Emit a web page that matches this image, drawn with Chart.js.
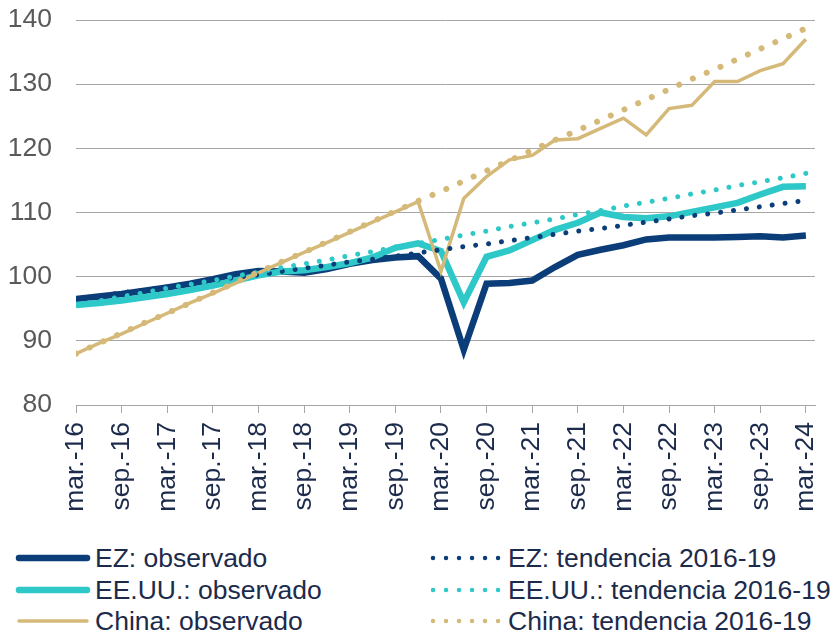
<!DOCTYPE html>
<html>
<head>
<meta charset="utf-8">
<script src="https://cdn.jsdelivr.net/npm/chart.js@4"></script>
<style>
    body { margin: 0; background: #fff; }
    .wrap { position: relative; width: 834px; height: 635px; font-family: "Liberation Sans", Arial, sans-serif; }
    #myChart { position: absolute; left: 0; top: 0; }
    .leg { position: absolute; height: 30px; line-height: 30px; font-size: 26.5px; color: #1c2a4b; white-space: nowrap; }
    .leg svg { position: absolute; top: 9px; }
    .leg span { position: absolute; }
</style>
</head>
<body>
<div class="wrap">
    <canvas id="myChart" width="834" height="530"></canvas>
    <div class="legend_place"></div>
</div>
<script>
// quarters, mar.-16 .. mar.-24
const quarters = [
    'mar.-16', 'jun.-16', 'sep.-16', 'dic.-16',
    'mar.-17', 'jun.-17', 'sep.-17', 'dic.-17',
    'mar.-18', 'jun.-18', 'sep.-18', 'dic.-18',
    'mar.-19', 'jun.-19', 'sep.-19', 'dic.-19',
    'mar.-20', 'jun.-20', 'sep.-20', 'dic.-20',
    'mar.-21', 'jun.-21', 'sep.-21', 'dic.-21',
    'mar.-22', 'jun.-22', 'sep.-22', 'dic.-22',
    'mar.-23', 'jun.-23', 'sep.-23', 'dic.-23',
    'mar.-24'
];
// which quarters get a tick + label (mar / sep)
const tickQuarters = [0, 2, 4, 6, 8, 10, 12, 14, 16, 18, 20, 22, 24, 26, 28, 30, 32];
const yTicks = [80, 90, 100, 110, 120, 130, 140];

const ezObs = [96.5, 96.9, 97.3, 97.8, 98.3, 98.9, 99.6, 100.4, 100.9, 100.8, 100.6, 101.2, 102.0, 102.6, 103.0, 103.2,
    99.7, 88.6, 98.9, 99.0, 99.4, 101.5, 103.4, 104.2, 104.9, 105.8, 106.1, 106.1, 106.1, 106.2, 106.3, 106.1, 106.4];
const usObs = [95.6, 95.9, 96.3, 96.8, 97.3, 97.9, 98.6, 99.4, 100.2, 100.8, 101.0, 101.5, 102.1, 103.0, 104.5, 105.2,
    104.0, 96.0, 103.1, 104.1, 105.7, 107.3, 108.4, 110.0, 109.3, 109.1, 109.4, 110.1, 110.8, 111.5, 112.8, 114.0, 114.1];
const cnObs = [88.0, 89.6, 91.1, 92.7, 94.3, 95.9, 97.4, 99.0, 100.6, 102.2, 103.8, 105.3, 106.9, 108.5, 110.1, 111.7,
    100.8, 112.2, 115.6, 118.2, 118.9, 121.3, 121.5, 123.1, 124.7, 122.1, 126.2, 126.7, 130.4, 130.4, 132.1, 133.2, 137.0];

const ezTrend = [96.5, 97.0, 97.5, 97.9, 98.4, 98.9, 99.4, 99.9, 100.3, 100.8, 101.3, 101.8, 102.3, 102.7, 103.2, 103.7,
    104.2, 104.7, 105.1, 105.6, 106.1, 106.6, 107.1, 107.5, 108.0, 108.5, 109.0, 109.5, 109.9, 110.4, 110.9, 111.4, 111.9];
const usTrend = [95.6, 96.2, 96.9, 97.5, 98.2, 98.8, 99.4, 100.1, 100.7, 101.4, 102.0, 102.6, 103.3, 103.9, 104.6, 105.2,
    105.8, 106.5, 107.1, 107.8, 108.4, 109.0, 109.7, 110.3, 111.0, 111.6, 112.2, 112.9, 113.5, 114.2, 114.8, 115.4, 116.1];
const cnTrend = [88.0, 89.6, 91.2, 92.8, 94.3, 95.9, 97.5, 99.1, 100.7, 102.3, 103.8, 105.4, 107.0, 108.6, 110.2, 111.8,
    113.3, 114.9, 116.5, 118.1, 119.7, 121.3, 122.8, 124.4, 126.0, 127.6, 129.2, 130.8, 132.3, 133.9, 135.5, 137.1, 138.7];

const NAVY = '#0b3d78';
const CYAN = '#2ec8c8';
const TAN = '#d5b978';
const FONT = '"Liberation Sans", Arial, sans-serif';

function toPoints(values) {
    return values.map((v, i) => ({ x: i, y: v }));
}

function solid(label, values, color, width, order) {
    return {
        label: label, data: toPoints(values), borderColor: color, borderWidth: width,
        pointRadius: 0, tension: 0, fill: false, order: order, borderJoinStyle: 'miter'
    };
}

function dotted(label, values, color, width, gap, order) {
    return {
        label: label, data: toPoints(values), borderColor: color, borderWidth: width,
        borderDash: [0.01, gap], borderCapStyle: 'round',
        pointRadius: 0, tension: 0, fill: false, order: order
    };
}

const series = [
    solid('EZ: observado', ezObs, NAVY, 6.5, 6),
    solid('EE.UU.: observado', usObs, CYAN, 6.5, 5),
    solid('China: observado', cnObs, TAN, 3.5, 4),
    dotted('EZ: tendencia 2016-19', ezTrend, NAVY, 5, 13, 3),
    dotted('EE.UU.: tendencia 2016-19', usTrend, CYAN, 5, 13, 2),
    dotted('China: tendencia 2016-19', cnTrend, TAN, 6, 15, 1)
];

const ctx = document.getElementById('myChart').getContext('2d');
const myChart = new Chart(ctx, {
    type: 'line',
    data: { datasets: series },
    options: {
        responsive: false,
        animation: false,
        devicePixelRatio: 1,
        layout: { padding: { top: 20, right: 19, bottom: 0, left: 0 } },
        plugins: { legend: { display: false }, tooltip: { enabled: false } },
        scales: {
            x: {
                type: 'linear',
                min: 0,
                max: 32.4,
                afterBuildTicks: scale => { scale.ticks = tickQuarters.map(v => ({ value: v })); },
                afterFit: scale => {
                    scale.height = 125;
                    scale.paddingLeft = 0;
                    scale.paddingRight = 0;
                },
                ticks: {
                    autoSkip: false,
                    minRotation: 90,
                    maxRotation: 90,
                    padding: 9,
                    color: '#1c2a4b',
                    font: { family: FONT, size: 26.5 },
                    callback: v => quarters[v]
                },
                grid: { drawOnChartArea: false, drawTicks: true, tickLength: 8, color: '#a6a6a6', lineWidth: 1 },
                border: { display: true, color: '#a6a6a6', width: 1 }
            },
            y: {
                min: 80,
                max: 140,
                afterBuildTicks: scale => { scale.ticks = yTicks.map(v => ({ value: v })); },
                afterFit: scale => {
                    scale.width = 76;
                    scale.paddingTop = 0;
                    scale.paddingBottom = 0;
                },
                ticks: { padding: 24, color: '#595959', font: { family: FONT, size: 26.5 } },
                grid: { drawTicks: false, color: '#a6a6a6', lineWidth: 1 },
                border: { display: false }
            }
        }
    }
});

// legend, two columns: observed left, trend right
const legend_place = document.querySelector('.legend_place');
const rowsY = [558, 590, 621];
series.forEach((ds, i) => {
    const col = i < 3 ? 0 : 1;
    const row = i % 3;
    const item = document.createElement('div');
    item.className = 'leg';
    item.style.top = (rowsY[row] - 15) + 'px';
    item.style.left = col === 0 ? '15px' : '428px';
    let svg;
    if (col === 0) {
        svg = `<svg width="78" height="12" style="left:0"><line x1="4" y1="6" x2="72" y2="6" stroke="${ds.borderColor}" stroke-width="${ds.borderWidth}" stroke-linecap="round"/></svg>`;
    } else {
        svg = `<svg width="76" height="12" style="left:0"><line x1="5" y1="6" x2="72" y2="6" stroke="${ds.borderColor}" stroke-width="4.5" stroke-linecap="round" stroke-dasharray="0.01 13"/></svg>`;
    }
    item.innerHTML = svg + `<span style="left:80px">${ds.label}</span>`;
    legend_place.appendChild(item);
});
</script>
</body>
</html>
